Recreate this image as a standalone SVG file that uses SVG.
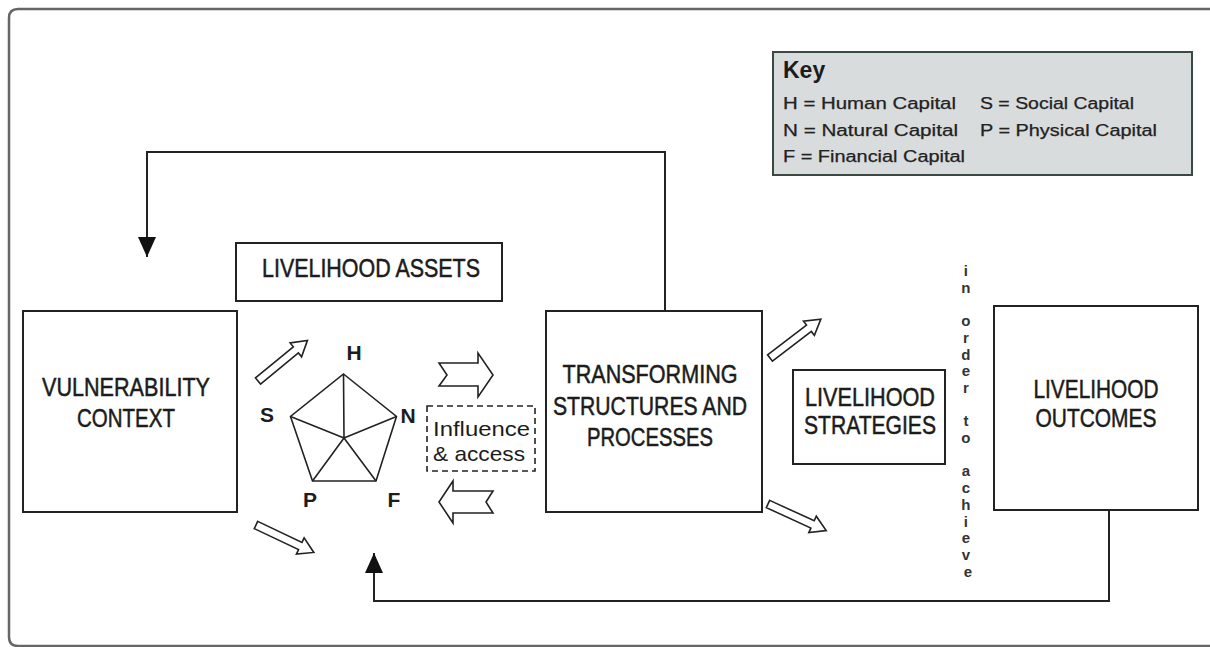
<svg xmlns="http://www.w3.org/2000/svg" width="1210" height="647" viewBox="0 0 1210 647">
<style>
.box{fill:#fff;stroke:#222;stroke-width:2}
.lbl{font-family:"Liberation Sans Narrow","Liberation Sans",sans-serif;font-size:25px;fill:#1c1c1c;stroke:#1c1c1c;stroke-width:0.5;text-anchor:middle}
.keyt{font-family:"Liberation Sans",Arial,sans-serif;font-size:16px;fill:#222;stroke:#222;stroke-width:0.25}
.cap{font-family:"Liberation Sans",Arial,sans-serif;font-size:21px;font-weight:bold;fill:#1c1c1c;text-anchor:middle}
.blk{fill:#fff;stroke:#222;stroke-width:1.6;stroke-linejoin:miter}
.conn{fill:none;stroke:#222;stroke-width:2}
.pent{fill:none;stroke:#222;stroke-width:1.6;stroke-linejoin:miter}
.vert{font-family:"Liberation Sans Narrow","Liberation Sans",sans-serif;font-size:15px;font-weight:bold;fill:#333;text-anchor:middle}
</style>
<defs>
<marker id="ah" viewBox="0 0 20 18" refX="20" refY="9" markerWidth="20" markerHeight="18" markerUnits="userSpaceOnUse" orient="auto">
<path d="M0,0 L20,9 L0,18 Z" fill="#111"/>
</marker>
<path id="darr" d="M0,-4 H49 V-9 L64,0 L49,9 V4 H0 Z"/>
</defs>
<rect width="1210" height="647" fill="#fff"/>
<path d="M1215,9 H18 Q9,9 9,18 V637 Q9,646 18,646 H1215" fill="none" stroke="#666" stroke-width="2.5"/>

<g id="key">
<rect x="773" y="52" width="419" height="123" fill="#d9dcdc" stroke="#3a4a42" stroke-width="2"/>
<text x="783" y="78" font-family="Liberation Sans,Arial,sans-serif" font-size="23" font-weight="bold" fill="#1c1c1c">Key</text>
<text class="keyt" x="783" y="109" textLength="173" lengthAdjust="spacingAndGlyphs">H = Human Capital</text>
<text class="keyt" x="980" y="109" textLength="154" lengthAdjust="spacingAndGlyphs">S = Social Capital</text>
<text class="keyt" x="783" y="136" textLength="175" lengthAdjust="spacingAndGlyphs">N = Natural Capital</text>
<text class="keyt" x="980" y="136" textLength="177" lengthAdjust="spacingAndGlyphs">P = Physical Capital</text>
<text class="keyt" x="783" y="162" textLength="182" lengthAdjust="spacingAndGlyphs">F = Financial Capital</text>
</g>

<g id="connectors">
<polyline class="conn" points="665,311 665,152 147,152 147,257" marker-end="url(#ah)"/>
<polyline class="conn" points="1109,510 1109,601 374,601 374,553" marker-end="url(#ah)"/>
<use href="#darr" class="blk" transform="translate(258,381) rotate(-39.4)"/>
<use href="#darr" class="blk" transform="translate(256,525) rotate(25.4)"/>
<use href="#darr" class="blk" transform="translate(770,358) rotate(-37.4)"/>
<use href="#darr" class="blk" transform="translate(768,504) rotate(24.6)"/>
<path class="blk" d="M439,363 H478 V353 L493,375 L478,397 V386 H439 L447,375 Z"/>
<path class="blk" d="M493,491 H453 V481 L439,502 L453,523 V513 H493 L486,502 Z"/>
</g>

<g id="vulnerability">
<rect class="box" x="23" y="311" width="214" height="201"/>
<text class="lbl" x="126" y="396" textLength="168" lengthAdjust="spacingAndGlyphs">VULNERABILITY</text>
<text class="lbl" x="126" y="427" textLength="98" lengthAdjust="spacingAndGlyphs">CONTEXT</text>
</g>

<g id="assets">
<rect class="box" x="236" y="243" width="266" height="58"/>
<text class="lbl" x="371" y="277" textLength="218" lengthAdjust="spacingAndGlyphs">LIVELIHOOD  ASSETS</text>
</g>

<g id="pentagon">
<polygon class="pent" points="343.5,374 396.5,416.5 376,481 312.5,481 290.5,416.5"/>
<path class="pent" d="M344,438 L343.5,374 M344,438 L396.5,416.5 M344,438 L376,481 M344,438 L312.5,481 M344,438 L290.5,416.5"/>
<text class="cap" x="354" y="360">H</text>
<text class="cap" x="267" y="422">S</text>
<text class="cap" x="408" y="423">N</text>
<text class="cap" x="310" y="507">P</text>
<text class="cap" x="394" y="507">F</text>
</g>

<g id="influence">
<rect x="427" y="406" width="108" height="65" fill="none" stroke="#222" stroke-width="1.6" stroke-dasharray="6,4"/>
<text x="433" y="436" font-family="Liberation Sans,Arial,sans-serif" font-size="21" fill="#1c1c1c" textLength="97" lengthAdjust="spacingAndGlyphs">Influence</text>
<text x="433" y="461" font-family="Liberation Sans,Arial,sans-serif" font-size="21" fill="#1c1c1c" textLength="92" lengthAdjust="spacingAndGlyphs">&amp; access</text>
</g>

<g id="transforming">
<rect class="box" x="546" y="311" width="216" height="201"/>
<text class="lbl" x="650" y="383" textLength="175" lengthAdjust="spacingAndGlyphs">TRANSFORMING</text>
<text class="lbl" x="650" y="415" textLength="194" lengthAdjust="spacingAndGlyphs">STRUCTURES  AND</text>
<text class="lbl" x="650" y="446" textLength="126" lengthAdjust="spacingAndGlyphs">PROCESSES</text>
</g>

<g id="strategies">
<rect class="box" x="793" y="370" width="152" height="94"/>
<text class="lbl" x="870" y="406" textLength="130" lengthAdjust="spacingAndGlyphs">LIVELIHOOD</text>
<text class="lbl" x="870" y="434" textLength="132" lengthAdjust="spacingAndGlyphs">STRATEGIES</text>
</g>

<g id="in-order-to-achieve">
<text class="vert">
<tspan x="968" y="276">i</tspan>
<tspan x="968" y="292.7">n</tspan>
<tspan x="968" y="326.1">o</tspan>
<tspan x="968" y="342.8">r</tspan>
<tspan x="968" y="359.5">d</tspan>
<tspan x="968" y="376.2">e</tspan>
<tspan x="968" y="392.9">r</tspan>
<tspan x="968" y="426.3">t</tspan>
<tspan x="968" y="443">o</tspan>
<tspan x="968" y="476.4">a</tspan>
<tspan x="968" y="493.1">c</tspan>
<tspan x="968" y="509.8">h</tspan>
<tspan x="968" y="526.5">i</tspan>
<tspan x="968" y="543.2">e</tspan>
<tspan x="968" y="559.9">v</tspan>
<tspan x="968" y="576.6">e</tspan>
</text>
</g>

<g id="outcomes">
<rect class="box" x="994" y="306" width="204" height="204"/>
<text class="lbl" x="1096" y="398" textLength="125" lengthAdjust="spacingAndGlyphs">LIVELIHOOD</text>
<text class="lbl" x="1096" y="427" textLength="121" lengthAdjust="spacingAndGlyphs">OUTCOMES</text>
</g>
</svg>
